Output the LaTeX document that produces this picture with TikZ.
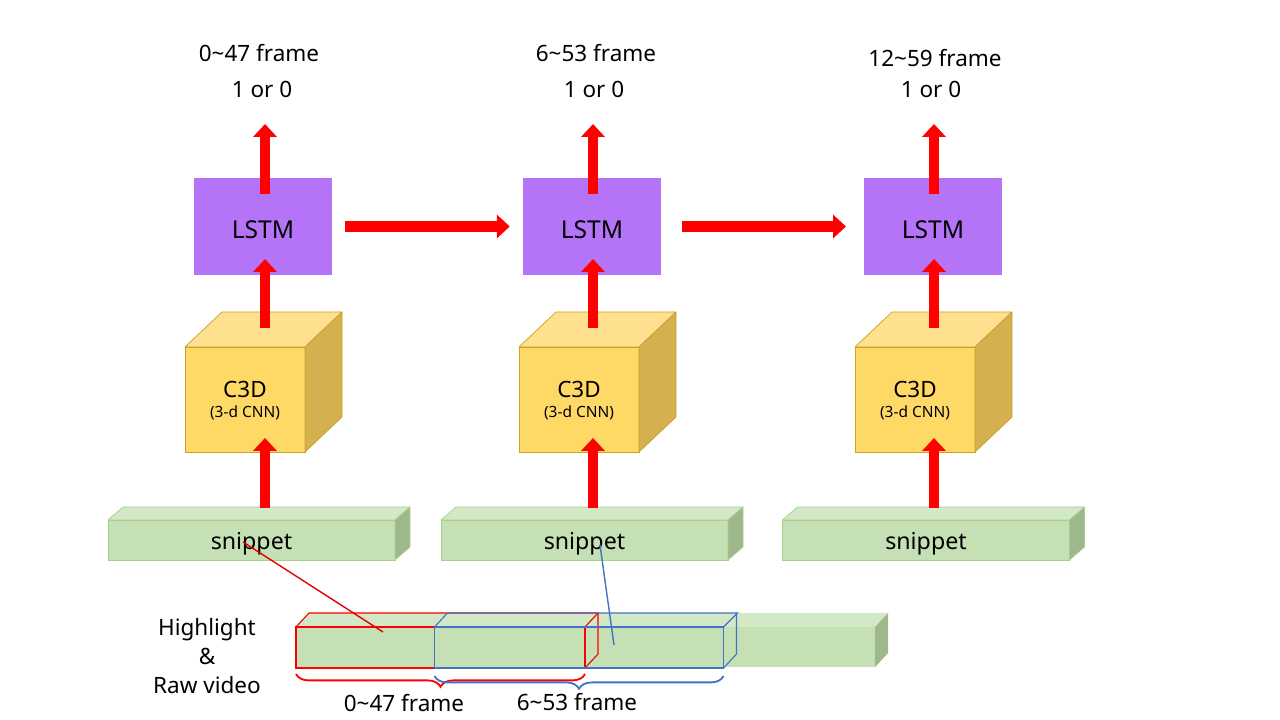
\documentclass[tikz,border=0pt]{standalone}
\usepackage{fontspec}
\setmainfont{Noto Sans}
\usetikzlibrary{arrows.meta,decorations.pathreplacing}
\definecolor{lstmpurple}{HTML}{B574F7}
\definecolor{cubefront}{HTML}{FFD966}
\definecolor{cubetop}{HTML}{FFE08E}
\definecolor{cubeside}{HTML}{D4B04F}
\definecolor{cubeedge}{HTML}{C9A227}
\definecolor{snipfront}{HTML}{C5E0B4}
\definecolor{sniptop}{HTML}{D3E8C6}
\definecolor{snipside}{HTML}{9FB88B}
\definecolor{snipedge}{HTML}{A9D18E}
\definecolor{arrowred}{HTML}{FF0000}
\definecolor{lineblue}{HTML}{4472C4}
\begin{document}
\begin{tikzpicture}[x=0.025cm,y=-0.025cm,
		txt/.style={font=\fontsize{16}{19}\selectfont, inner sep=0},
		lstm/.style={fill=lstmpurple, minimum width=3.45cm, minimum height=2.4cm, outer sep=0, font=\fontsize{17.5}{19}\selectfont},
		cube/.style={fill=cubefront, draw=cubeedge, line width=0.5pt, minimum width=3cm, minimum height=2.625cm, outer sep=0, align=center, font=\fontsize{16}{15}\selectfont},
		cubeface/.style={draw=cubeedge, line width=0.5pt, line join=round},
		snip/.style={fill=snipfront, draw=snipedge, line width=0.5pt, minimum width=7.175cm, minimum height=1cm, outer sep=0, font=\fontsize{16.5}{19}\selectfont},
		snipface/.style={draw=snipedge, line width=0.5pt, line join=round},
		seg/.style={line width=1pt, minimum width=7.225cm, minimum height=1.025cm, outer sep=0},
		redarrow/.style={draw=arrowred, line width=7.8pt, -{Triangle[width=16.4pt,length=9.2pt]}},
		framebrace/.style={decorate, decoration={brace, mirror, amplitude=0.32cm}, line width=1.3pt}]
	\useasboundingbox (0,0) rectangle (1280,720);
	% three columns: snippet -> C3D -> LSTM
	\foreach \i/\lx/\cx/\sx/\ax/\fx/\fy/\ox/\rng in {1/263/245/251.5/265/259/53/262/0\textasciitilde47,
		2/592/579/584.5/593/596/53/594/6\textasciitilde53,
		3/933/915/926/934/935/58/931/12\textasciitilde59} {
		\node[lstm] (lstm\i) at (\lx,226.5) {\raisebox{-2.2pt}[\height][\depth]{LSTM}};
		\node[cube] (c3d\i) at (\cx,399.5) {\raisebox{-1.5pt}[\height][\depth]{C3D}\\[1pt]{\fontsize{11}{12}\selectfont (3-d CNN)}};
		\draw[cubeface, fill=cubetop] (c3d\i.north west) -- ++(37,-35) -- ++(120,0) -- (c3d\i.north east) -- cycle;
		\draw[cubeface, fill=cubeside] (c3d\i.north east) -- ++(37,-35) -- ++(0,105) -- (c3d\i.south east) -- cycle;
		\node[snip] (snip\i) at (\sx,540) {\raisebox{-2.8pt}[\height][\depth]{snippet}};
		\draw[snipface, fill=sniptop] (snip\i.north west) -- ++(15,-13) -- ++(287,0) -- (snip\i.north east) -- cycle;
		\draw[snipface, fill=snipside] (snip\i.north east) -- ++(15,-13) -- ++(0,40) -- (snip\i.south east) -- cycle;
		\node[txt] (frm\i) at (\fx,\fy) {\rng{} frame};
		\node[txt] (out\i) at (\ox,89) {1 or 0};
		\coordinate (sa\i) at (\ax,508);
		\coordinate (sb\i) at (\ax,438);
		\coordinate (ca\i) at (\ax,328);
		\coordinate (cb\i) at (\ax,259);
		\coordinate (la\i) at (\ax,194);
		\coordinate (lb\i) at (\ax,124);
		\draw[redarrow] (sa\i) -- (sb\i);
		\draw[redarrow] (ca\i) -- (cb\i);
		\draw[redarrow] (la\i) -- (lb\i);
	}
	\draw[redarrow, shorten <=0.33cm, shorten >=0.33cm] (lstm1.east) -- (lstm2.west);
	\draw[redarrow, shorten <=0.52cm, shorten >=0.45cm] (lstm2.east) -- (lstm3.west);
	% raw video bar
	\node[fill=snipfront, minimum width=14.475cm, minimum height=1cm, outer sep=0] (raw) at (585.5,647) {};
	\draw[fill=sniptop, draw=none] (raw.north west) -- ++(13,-14) -- ++(579,0) -- (raw.north east) -- cycle;
	\draw[fill=snipside, draw=none] (raw.north east) -- ++(13,-14) -- ++(0,40) -- (raw.south east) -- cycle;
	\node[seg, draw=arrowred] (seg1) at (440.5,647.5) {};
	\draw[arrowred, line width=0.8pt] (seg1.north west) -- ++(13,-14) -- ++(289,0) -- (seg1.north east);
	\draw[arrowred, line width=0.8pt] (seg1.north east) ++(13,-14) -- ++(0,41) -- (seg1.south east);
	\node[seg, draw=lineblue] (seg2) at (579,647.5) {};
	\draw[lineblue, line width=0.8pt] (seg2.north west) -- ++(13,-14) -- ++(290,0) -- (seg2.north east);
	\draw[lineblue, line width=0.8pt] (seg2.north east) ++(13,-14) -- ++(0,41) -- (seg2.south east);
	% links from the video to the snippets
	\coordinate (pick1) at (383,632);
	\coordinate (pick2) at (614,645);
	\coordinate (tgt1) at (243,542);
	\coordinate (tgt2) at (600,545);
	\draw[arrowred!90!black, line width=1pt] (pick1) -- (tgt1);
	\draw[lineblue, line width=1pt] (pick2) -- (tgt2);
	% braces
	\draw[framebrace, arrowred] ([yshift=-0.15cm]seg1.south west) -- ([yshift=-0.15cm]seg1.south east);
	\draw[framebrace, lineblue] ([yshift=-0.2cm]seg2.south west) -- ([yshift=-0.2cm]seg2.south east);
	\node[txt] (rng1) at (404,703) {0\textasciitilde47 frame};
	\node[txt] (rng2) at (577,702) {6\textasciitilde53 frame};
	\node[txt, align=center, font=\fontsize{16}{20.6}\selectfont] (video) at (207,656) {Highlight\\\&\\Raw video};
\end{tikzpicture}
\end{document}
